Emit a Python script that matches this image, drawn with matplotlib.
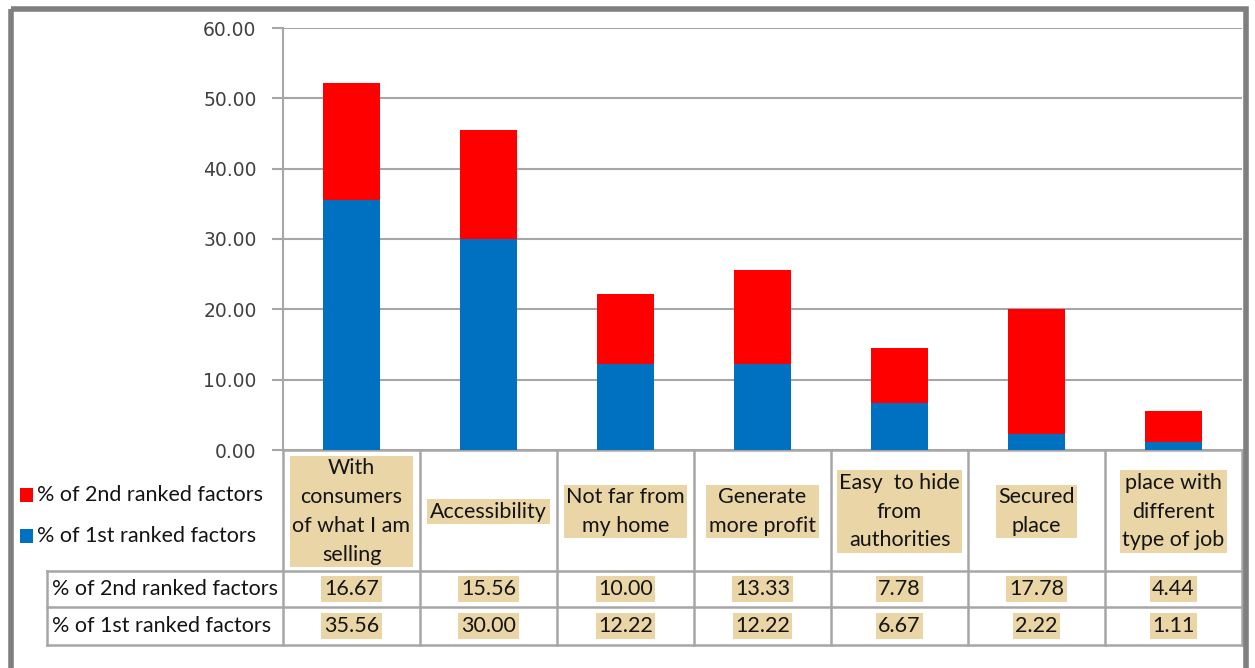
import matplotlib
matplotlib.use("Agg")
import matplotlib.pyplot as plt
from matplotlib.transforms import blended_transform_factory
from matplotlib.patches import Rectangle

categories = [
    "With\nconsumers\nof what I am\nselling",
    "Accessibility",
    "Not far from\nmy home",
    "Generate\nmore profit",
    "Easy  to hide\nfrom\nauthorities",
    "Secured\nplace",
    "place with\ndifferent\ntype of job",
]
first_ranked = [35.56, 30.00, 12.22, 12.22, 6.67, 2.22, 1.11]
second_ranked = [16.67, 15.56, 10.00, 13.33, 7.78, 17.78, 4.44]
series_names = ["% of 2nd ranked factors", "% of 1st ranked factors"]
y_ticks = [0, 10, 20, 30, 40, 50, 60]

W, H = 1255, 668
RED = "#FF0000"
BLUE = "#0070C0"
TAN = "#E9D5A5"
GRID = "#A6A6A6"
INK = "#141414"
TXT_FONT = ["Lato", "DejaVu Sans"]

fig = plt.figure(figsize=(W / 100, H / 100), dpi=100)

# overlay axes in pixel coordinates for frame, table and legend
ov = fig.add_axes([0, 0, 1, 1], zorder=0)
ov.set_xlim(0, W)
ov.set_ylim(H, 0)
ov.axis("off")

# plot area
px_left, px_right, px_top, px_bottom = 283, 1242, 28, 450
ax = fig.add_axes([px_left / W, (H - px_bottom) / H,
                   (px_right - px_left) / W, (px_bottom - px_top) / H], zorder=1)
ax.patch.set_alpha(0)

x = list(range(len(categories)))
ax.bar(x, first_ranked, width=0.42, color=BLUE, zorder=3)
ax.bar(x, second_ranked, width=0.42, bottom=first_ranked, color=RED, zorder=3)

ax.set_xlim(-0.5, len(categories) - 0.5)
ax.set_ylim(0, 60)
ax.set_yticks(y_ticks)
ax.set_yticklabels([f"{v:.2f}" for v in y_ticks], fontsize=13.5,
                   color="#404040", family="DejaVu Sans")
ax.set_xticks([])
ax.yaxis.grid(True, color=GRID, linewidth=1.5, zorder=0)
ax.tick_params(axis="y", length=8, width=1.5, color=GRID, pad=11)
for s in ["top", "right", "bottom"]:
    ax.spines[s].set_visible(False)
ax.spines["left"].set_color(GRID)
ax.spines["left"].set_linewidth(1.5)

# x in category units, y in pixels
tr = blended_transform_factory(ax.transData, ov.transData)

row_cat_bottom, row2_bottom, row1_bottom = 571, 607, 645
table_left = 47

# table grid lines
lkw = dict(color=GRID, linewidth=1.8, zorder=2)
ov.plot([px_left, px_right], [px_bottom, px_bottom], **lkw)
for y in (row_cat_bottom, row2_bottom, row1_bottom):
    ov.plot([table_left, px_right], [y, y], **lkw)
ov.plot([table_left, table_left], [row_cat_bottom, row1_bottom], **lkw)
for i in range(len(categories) + 1):
    xb = i - 0.5
    ov.plot([xb, xb], [px_bottom, row1_bottom], transform=tr, **lkw)

box = dict(boxstyle="square,pad=0.12", fc=TAN, ec="none")
for i, label in enumerate(categories):
    ov.text(i, (px_bottom + row_cat_bottom) / 2 + 1, label, transform=tr,
            ha="center", va="center", fontsize=15.5, family=TXT_FONT,
            color=INK, linespacing=1.55, bbox=box, zorder=3)
    ov.text(i, (row_cat_bottom + row2_bottom) / 2, f"{second_ranked[i]:.2f}",
            transform=tr, ha="center", va="center", fontsize=15.5,
            family=TXT_FONT, color=INK, bbox=box, zorder=3)
    ov.text(i, (row2_bottom + row1_bottom) / 2, f"{first_ranked[i]:.2f}",
            transform=tr, ha="center", va="center", fontsize=15.5,
            family=TXT_FONT, color=INK, bbox=box, zorder=3)

# row headers
ov.text(table_left + 5, (row_cat_bottom + row2_bottom) / 2, series_names[0],
        ha="left", va="center", fontsize=15.5, family=TXT_FONT, color=INK)
ov.text(table_left + 5, (row2_bottom + row1_bottom) / 2, series_names[1],
        ha="left", va="center", fontsize=15.5, family=TXT_FONT, color=INK)

# legend
for yc, color, name in ((495, RED, series_names[0]), (536, BLUE, series_names[1])):
    ov.add_patch(Rectangle((20, yc - 7), 13, 14, fc=color, ec="none"))
    ov.text(37, yc, name, ha="left", va="center", fontsize=15.5,
            family=TXT_FONT, color=INK)

# outer frame
ov.add_patch(Rectangle((10.5, 8.5), 1235, 700, fill=False, ec="#7F7F7F",
                       linewidth=4, clip_on=False, zorder=5))

fig.savefig("out.png", dpi=100)
